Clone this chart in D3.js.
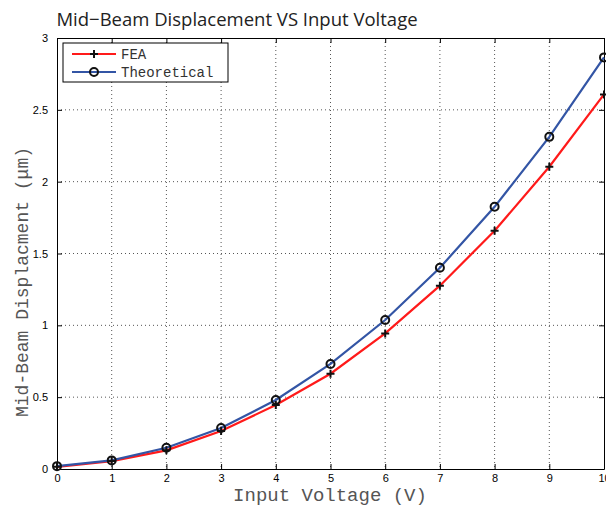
<!DOCTYPE html>
<html><head><meta charset="utf-8">
<script src="https://cdn.jsdelivr.net/npm/d3@7"></script>
<style>body{margin:0;background:#fff}</style>
</head><body>
<svg id="c" width="606" height="506"></svg>
<script>
const voltages = [0,1,2,3,4,5,6,7,8,9,10];
const feaValues = [0.015,0.055,0.13,0.265,0.445,0.663,0.944,1.276,1.658,2.104,2.607];
const theoValues = [0.02,0.06,0.148,0.285,0.48,0.731,1.037,1.401,1.825,2.312,2.865];
const xTicks = [0,1,2,3,4,5,6,7,8,9,10];
const yTicks = [0,0.5,1,1.5,2,2.5,3];
const yTickLabels = ["0","0.5","1","1.5","2","2.5","3"];

const svg = d3.select("#c");
const L=57,R=604,T=38,B=469;
const x = d3.scaleLinear().domain([0,10]).range([L,R]);
const y = d3.scaleLinear().domain([0,3]).range([B,T]);

// grid
const g = svg.append("g");
g.selectAll(".vg").data(xTicks.slice(1,-1)).enter().append("line")
 .attr("x1",d=>x(d)).attr("x2",d=>x(d)).attr("y1",T).attr("y2",B)
 .attr("stroke","#555").attr("stroke-width",1).attr("stroke-dasharray","1,3");
g.selectAll(".hg").data(yTicks.slice(1,-1)).enter().append("line")
 .attr("y1",d=>y(d)).attr("y2",d=>y(d)).attr("x1",L).attr("x2",R)
 .attr("stroke","#555").attr("stroke-width",1).attr("stroke-dasharray","1,3");

// axes (ticks inward)
const font="Liberation Sans, Arial, sans-serif";
const xb = svg.append("g").attr("transform",`translate(0,${B})`)
 .call(d3.axisBottom(x).tickValues(xTicks).tickSizeInner(-5).tickSizeOuter(0).tickPadding(5).tickFormat(d3.format("d")));
const xt = svg.append("g").attr("transform",`translate(0,${T})`)
 .call(d3.axisTop(x).tickValues(xTicks).tickSizeInner(-5).tickSizeOuter(0).tickFormat(""));
const yl = svg.append("g").attr("transform",`translate(${L},0)`)
 .call(d3.axisLeft(y).tickValues(yTicks).tickSizeInner(-5).tickSizeOuter(0).tickPadding(9).tickFormat((d,i)=>yTickLabels[i]));
const yr = svg.append("g").attr("transform",`translate(${R},0)`)
 .call(d3.axisRight(y).tickValues(yTicks).tickSizeInner(-5).tickSizeOuter(0).tickFormat(""));
[xb,xt,yl,yr].forEach(a=>{
  a.selectAll("path").attr("stroke","#000").attr("stroke-width",1);
  a.selectAll("line").attr("stroke","#000");
  a.selectAll("text").attr("font-family",font).attr("font-size",11).attr("fill","#000");
});

// lines
const line = d3.line().x((d,i)=>x(voltages[i])).y(d=>y(d));
svg.append("path").datum(feaValues).attr("d",line).attr("fill","none").attr("stroke","#ff1a1a").attr("stroke-width",2.2);
svg.append("path").datum(theoValues).attr("d",line).attr("fill","none").attr("stroke","#3355a5").attr("stroke-width",2.2);

// markers
function plus(sel,cx,cy){
  sel.append("path").attr("d",`M${cx-4},${cy}H${cx+4}M${cx},${cy-4}V${cy+4}`).attr("stroke","#111").attr("stroke-width",2);
}
feaValues.forEach((v,i)=>plus(svg,x(voltages[i]),y(v)));
svg.selectAll(".o").data(theoValues).enter().append("circle")
 .attr("cx",(d,i)=>x(voltages[i])).attr("cy",d=>y(d)).attr("r",4)
 .attr("fill","none").attr("stroke","#111").attr("stroke-width",2);

// legend
const lg = svg.append("g");
lg.append("rect").attr("x",63).attr("y",43).attr("width",165).attr("height",39).attr("fill","#fff").attr("stroke","#000").attr("stroke-width",1);
lg.append("line").attr("x1",72).attr("x2",116).attr("y1",54).attr("y2",54).attr("stroke","#ff1a1a").attr("stroke-width",2.2);
plus(lg,94,54);
lg.append("line").attr("x1",72).attr("x2",116).attr("y1",72).attr("y2",72).attr("stroke","#3355a5").attr("stroke-width",2.2);
lg.append("circle").attr("cx",94).attr("cy",72).attr("r",4).attr("fill","none").attr("stroke","#111").attr("stroke-width",2);
const mono="Liberation Mono, Courier New, monospace";
lg.append("text").attr("x",121).attr("y",59).text("FEA").attr("font-family",mono).attr("font-size",14).attr("fill","#333");
lg.append("text").attr("x",121).attr("y",77).text("Theoretical").attr("font-family",mono).attr("font-size",14).attr("fill","#333");

// title & labels
svg.append("text").attr("x",237).attr("y",26).attr("text-anchor","middle").text("Mid\u2212Beam Displacement VS Input Voltage")
 .attr("font-family","Open Sans, Liberation Sans, sans-serif").attr("font-size",18.5).attr("fill","#222");
svg.append("text").attr("x",330).attr("y",501).attr("text-anchor","middle").text("Input Voltage (V)")
 .attr("font-family",mono).attr("font-size",19).attr("fill","#555");
svg.append("text").attr("transform","translate(28,282) rotate(-90)").attr("text-anchor","middle").text("Mid-Beam Displacment (\u03bcm)")
 .attr("font-family",mono).attr("font-size",18).attr("fill","#555");
</script>
</body></html>
